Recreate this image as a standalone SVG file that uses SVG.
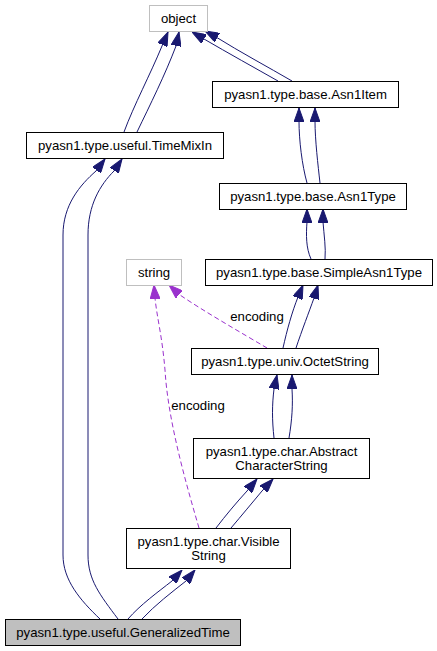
<svg xmlns="http://www.w3.org/2000/svg" width="437" height="651" viewBox="0 0 437 651">
<style>
.n rect{fill:#ffffff;stroke:#000000;stroke-width:1}
.n.g rect{stroke:#bfbfbf}
.n.cur rect{fill:#bfbfbf;stroke:#000000}
text{font-family:"Liberation Sans",Arial,sans-serif;font-size:13.2px;fill:#000000;text-anchor:middle;dominant-baseline:central}
.e path{fill:none;stroke:#191970;stroke-width:1;marker-end:url(#ah)}
.e path.d{stroke:#9a32cd;stroke-dasharray:5,3;marker-end:url(#ap)}
</style>
<defs>
<marker id="ah" viewBox="0 0 14 10" refX="14" refY="5" markerWidth="14" markerHeight="10" markerUnits="userSpaceOnUse" orient="auto">
<path d="M0,0 L14,5 L0,10 z" fill="#191970" stroke="#191970"/>
</marker>
<marker id="ap" viewBox="0 0 14 10" refX="14" refY="5" markerWidth="14" markerHeight="10" markerUnits="userSpaceOnUse" orient="auto">
<path d="M0,0 L14,5 L0,10 z" fill="#9a32cd" stroke="#9a32cd"/>
</marker>
</defs>
<rect width="437" height="651" fill="#ffffff"/>
<g id="edges" class="e">
<path d="M124,132 C134,105 150,75 162,46 L168,32"/>
<path d="M137,132 C150,105 165,75 176,46 L179,32"/>
<path d="M278,81 C255,68 228,53 204,39 L192,32"/>
<path d="M292,81 C268,67 240,52 216,37 L205,31"/>
<path d="M307,183 C302,165 299,140 299,121 L299,108"/>
<path d="M320,183 C318,165 315,140 315,121 L315,108"/>
<path d="M311,259 C306,248 306,235 307,222 L307,209"/>
<path d="M325,259 C326,248 324,235 323,222 L323,209"/>
<path d="M283,348 C287,330 292,312 298,297 L303,285"/>
<path d="M296,348 C302,330 309,312 314,298 L318,285"/>
<path d="M274,438 C272,420 272,405 274,389 L277,375"/>
<path d="M289,438 C292,420 293,405 292,389 L292,375"/>
<path d="M216,528 C226,515 236,503 247,491 L257,479"/>
<path d="M231,528 C242,515 252,503 262,491 L273,479"/>
<path d="M128,619 C140,605 158,592 172,581 L182,570"/>
<path d="M142,619 C155,605 172,592 186,581 L195,570"/>
<path d="M100,619 C80,600 63,580 63,555 L63,235 C63,205 80,185 96,171 L105,159"/>
<path d="M118,619 C100,595 88,580 88,555 L88,235 C88,205 100,185 114,171 L122,159"/>
<path class="d" d="M267,348 C240,332 205,312 180,295 L169,285"/>
<path class="d" d="M199,528 C185,480 168,420 165,370 C162,335 157,318 155,298 L154,285"/>
<text x="257" y="316">encoding</text>
<text x="198" y="405">encoding</text>
</g>
<g id="object" class="n g"><rect x="149.5" y="5.5" width="58" height="26"/><text x="178.5" y="18.5">object</text></g>
<g id="asn1item" class="n"><rect x="212.5" y="81.5" width="186" height="26"/><text x="305.5" y="94.5">pyasn1.type.base.Asn1Item</text></g>
<g id="timemixin" class="n"><rect x="26.5" y="132.5" width="197" height="26"/><text x="125" y="145.5">pyasn1.type.useful.TimeMixIn</text></g>
<g id="asn1type" class="n"><rect x="219.5" y="183.5" width="187" height="26"/><text x="313" y="196.5">pyasn1.type.base.Asn1Type</text></g>
<g id="string" class="n g"><rect x="126.5" y="259.5" width="55" height="26"/><text x="154" y="272.5">string</text></g>
<g id="simpleasn1type" class="n"><rect x="205.5" y="259.5" width="227" height="26"/><text x="319" y="272.5">pyasn1.type.base.SimpleAsn1Type</text></g>
<g id="octetstring" class="n"><rect x="191.5" y="348.5" width="187" height="26"/><text x="285" y="361.5">pyasn1.type.univ.OctetString</text></g>
<g id="abstractcharacterstring" class="n"><rect x="193.5" y="438.5" width="176" height="40"/><text x="281.5" y="451">pyasn1.type.char.Abstract</text><text x="281.5" y="465">CharacterString</text></g>
<g id="visiblestring" class="n"><rect x="126.5" y="528.5" width="164" height="40"/><text x="208.5" y="541">pyasn1.type.char.Visible</text><text x="208.5" y="555">String</text></g>
<g id="generalizedtime" class="n cur"><rect x="5.5" y="619.5" width="235" height="26"/><text x="123" y="632.5">pyasn1.type.useful.GeneralizedTime</text></g>
</svg>
